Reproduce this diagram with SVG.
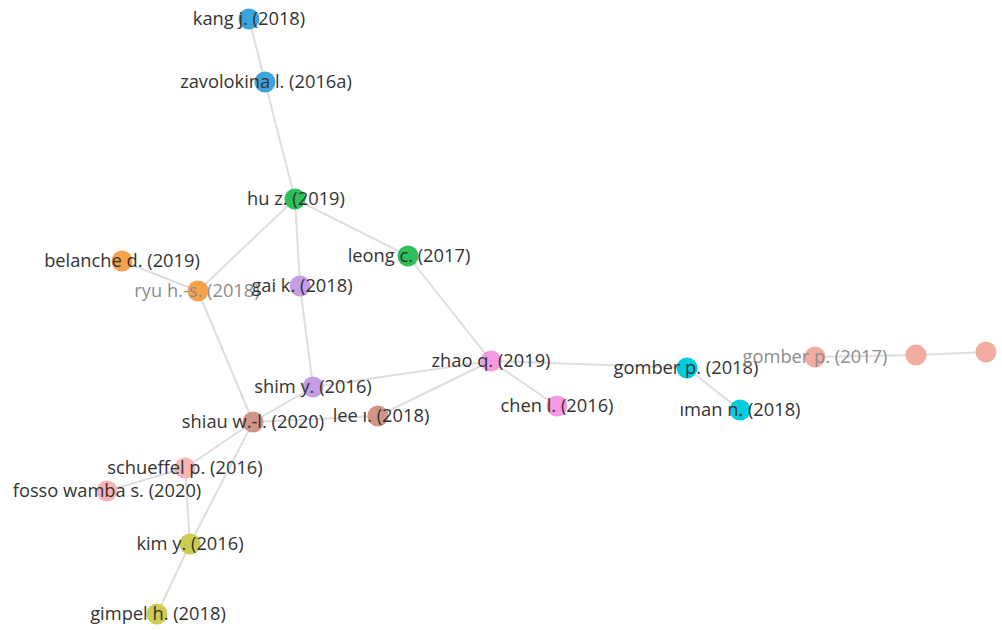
<svg xmlns="http://www.w3.org/2000/svg" width="1002" height="630" viewBox="0 0 1002 630">
<style>
.e{stroke:#dedede;stroke-width:2;fill:none}
text{font-family:"Open Sans","Noto Sans",sans-serif;font-size:18.3px;fill:#333;text-anchor:middle}
text.g{fill:#8c8c8c}
.c{stroke:none}
</style>
<rect width="1002" height="630" fill="#fff"/>
<g id="edges">
<line class="e" x1="249" y1="19" x2="265" y2="82"/>
<line class="e" x1="265" y1="82" x2="295" y2="199"/>
<line class="e" x1="295" y1="199" x2="408" y2="256"/>
<line class="e" x1="295" y1="199" x2="198" y2="291"/>
<line class="e" x1="295" y1="199" x2="300" y2="286"/>
<line class="e" x1="122" y1="261" x2="198" y2="291"/>
<line class="e" x1="198" y1="291" x2="253" y2="422"/>
<line class="e" x1="300" y1="286" x2="313" y2="387"/>
<line class="e" x1="408" y1="256" x2="491" y2="361"/>
<line class="e" x1="491" y1="361" x2="313" y2="387"/>
<line class="e" x1="491" y1="361" x2="378" y2="416"/>
<line class="e" x1="491" y1="361" x2="557" y2="406"/>
<line class="e" x1="491" y1="361" x2="687" y2="368"/>
<line class="e" x1="687" y1="368" x2="740" y2="410"/>
<line class="e" x1="815" y1="357" x2="916" y2="355"/>
<line class="e" x1="916" y1="355" x2="986" y2="352"/>
<line class="e" x1="313" y1="387" x2="253" y2="422"/>
<line class="e" x1="253" y1="422" x2="378" y2="416"/>
<line class="e" x1="253" y1="422" x2="185" y2="468"/>
<line class="e" x1="253" y1="422" x2="190" y2="544"/>
<line class="e" x1="185" y1="468" x2="107" y2="491"/>
<line class="e" x1="185" y1="468" x2="190" y2="544"/>
<line class="e" x1="190" y1="544" x2="157" y2="614"/>
</g>
<g id="n-kang"><circle class="c" cx="249" cy="19" r="10.5" fill="#3ba3de"/><text x="249" y="25">kang j. (2018)</text></g>
<g id="n-zavolokina"><circle class="c" cx="265" cy="82" r="10.5" fill="#3ba3de"/><text x="266" y="88">zavolokina l. (2016a)</text></g>
<g id="n-hu"><circle class="c" cx="295" cy="199" r="10.5" fill="#2dbf5a"/><text x="296" y="205">hu z. (2019)</text></g>
<g id="n-leong"><circle class="c" cx="408" cy="256" r="10.5" fill="#2dbf5a"/><text x="409" y="262">leong c. (2017)</text></g>
<g id="n-belanche"><circle class="c" cx="122" cy="261" r="10.5" fill="#f6a14c"/><text x="122" y="267">belanche d. (2019)</text></g>
<g id="n-ryu"><circle class="c" cx="198" cy="291" r="10.5" fill="#f6a14c"/><text class="g" x="197" y="297">ryu h.-s. (2018)</text></g>
<g id="n-gai"><circle class="c" cx="300" cy="286" r="10.5" fill="#c79ce6"/><text x="302" y="292">gai k. (2018)</text></g>
<g id="n-zhao"><circle class="c" cx="491" cy="361" r="10.5" fill="#f49ae0"/><text x="491" y="367">zhao q. (2019)</text></g>
<g id="n-shim"><circle class="c" cx="313" cy="387" r="10.5" fill="#c79ce6"/><text x="313" y="393">shim y. (2016)</text></g>
<g id="n-gomber2018"><circle class="c" cx="687" cy="368" r="10.5" fill="#00cce0"/><text x="686" y="374">gomber p. (2018)</text></g>
<g id="n-gomber2017"><circle class="c" cx="815" cy="357" r="10.5" fill="#f2ada0"/><text class="g" x="815" y="363">gomber p. (2017)</text></g>
<g id="n-a"><circle class="c" cx="916" cy="355" r="10.5" fill="#f2ada0"/></g>
<g id="n-b"><circle class="c" cx="986" cy="352" r="10.5" fill="#f2ada0"/></g>
<g id="n-chen"><circle class="c" cx="557" cy="406" r="10.5" fill="#f49ae0"/><text x="557" y="412">chen l. (2016)</text></g>
<g id="n-iman"><circle class="c" cx="740" cy="410" r="10.5" fill="#00cce0"/><text x="740" y="416">ıman n. (2018)</text></g>
<g id="n-lee"><circle class="c" cx="378" cy="416" r="10.5" fill="#d09488"/><text x="381" y="422">lee ı. (2018)</text></g>
<g id="n-shiau"><circle class="c" cx="253" cy="422" r="10.5" fill="#d09488"/><text x="253" y="428">shiau w.-l. (2020)</text></g>
<g id="n-schueffel"><circle class="c" cx="185" cy="468" r="10.5" fill="#f9b5b5"/><text x="185" y="474">schueffel p. (2016)</text></g>
<g id="n-fosso"><circle class="c" cx="107" cy="491" r="10.5" fill="#f9b5b5"/><text x="107" y="497">fosso wamba s. (2020)</text></g>
<g id="n-kim"><circle class="c" cx="190" cy="544" r="10.5" fill="#cccc52"/><text x="190" y="550">kim y. (2016)</text></g>
<g id="n-gimpel"><circle class="c" cx="157" cy="614" r="10.5" fill="#cccc52"/><text x="158" y="620">gimpel h. (2018)</text></g>
</svg>
